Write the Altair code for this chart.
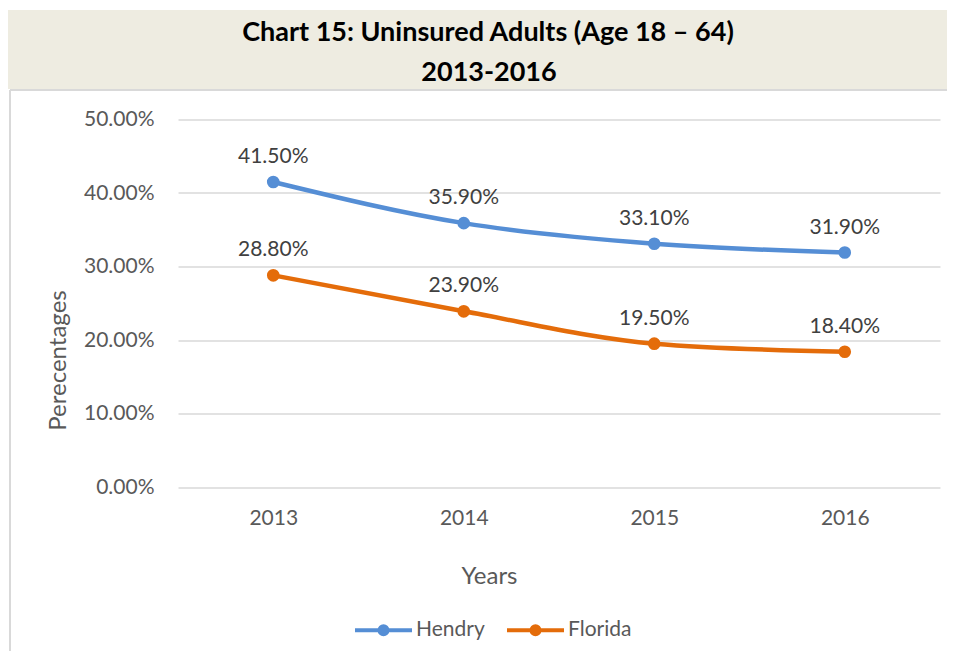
import altair as alt
import pandas as pd

years = ["2013", "2014", "2015", "2016"]
series_names = ["Hendry", "Florida"]
hendry = [0.415, 0.359, 0.331, 0.319]
florida = [0.288, 0.239, 0.195, 0.184]
y_ticks = [0.0, 0.1, 0.2, 0.3, 0.4, 0.5]
colors = ["#558ED5", "#E46C0A"]
title_lines = ["Chart 15: Uninsured Adults (Age 18 \u2013 64)", "2013-2016"]

rows = []
for name, vals in zip(series_names, [hendry, florida]):
    for yr, v in zip(years, vals):
        rows.append({"Year": yr, "Series": name, "Value": v})
df = pd.DataFrame(rows)

FONT = "Lato"
W, H = 762, 367.5

legend = alt.Legend(
    title=None,
    orient="none",
    direction="horizontal",
    legendX=175,
    legendY=480,
    symbolType="M-1,0L1,0 M0.0526,0A0.0526,0.0526 0 1,1 -0.0526,0A0.0526,0.0526 0 1,1 0.0526,0Z M0.14,0A0.14,0.14 0 1,1 -0.14,0A0.14,0.14 0 1,1 0.14,0Z",
    symbolSize=3249,
    symbolStrokeWidth=4,
    symbolOpacity=1,
    labelFont=FONT,
    labelFontSize=21,
    labelColor="#595959",
    labelOffset=2,
    columnPadding=14,
)
color = alt.Color("Series:N", scale=alt.Scale(domain=series_names, range=colors), legend=legend)

x = alt.X(
    "Year:O",
    sort=years,
    axis=alt.Axis(
        title="Years", titleFont=FONT, titleFontSize=24, titleFontWeight="normal",
        titleColor="#595959", titleX=W / 2 - 70, titleY=89, titleBaseline="middle",
        labelAngle=0, labelFont=FONT, labelFontSize=21, labelColor="#595959",
        labelPadding=20, domain=False, ticks=False, grid=False,
    ),
)
y = alt.Y(
    "Value:Q",
    scale=alt.Scale(domain=[0, 0.5], nice=False),
    axis=alt.Axis(
        title="Perecentages", titleFont=FONT, titleFontSize=24, titleFontWeight="normal",
        titleColor="#595959", titleX=-120, titleY=240.5, titleAngle=270,
        titleAlign="center", titleBaseline="middle",
        values=y_ticks, format=".2%", labelFont=FONT, labelFontSize=21,
        labelColor="#595959", labelPadding=24, domain=False, ticks=False,
        grid=True, gridColor="#D9D9D9", gridWidth=1.5,
    ),
)

base = alt.Chart(df)
lines = base.mark_line(interpolate="monotone", strokeWidth=4.5).encode(x=x, y=y, color=color)
points = base.mark_point(filled=True, size=160, opacity=1).encode(x=x, y=y, color=color)
labels = base.mark_text(dy=-25, font=FONT, fontSize=21, color="#404040").encode(
    x=x, y=y, text=alt.Text("Value:Q", format=".2%")
)

deco_df = pd.DataFrame({"a": [0]})
banner = alt.Chart(deco_df).mark_rect(color="#EEECE1").encode(
    x=alt.value(-171), x2=alt.value(769), y=alt.value(-109.5), y2=alt.value(-30.5)
)
sep = alt.Chart(deco_df).mark_rule(color="#D9D9D9", strokeWidth=2).encode(
    x=alt.value(-168), x2=alt.value(769), y=alt.value(-29.5)
)
left_border = alt.Chart(deco_df).mark_rule(color="#D9D9D9", strokeWidth=2).encode(
    x=alt.value(-168), y=alt.value(-29.5), y2=alt.value(H + 170)
)
t1 = alt.Chart(pd.DataFrame({"t": [title_lines[0]]})).mark_text(
    font=FONT, fontSize=27, fontWeight="bold", color="#000000", baseline="middle"
).encode(text="t:N", x=alt.value(310), y=alt.value(-87))
t2 = alt.Chart(pd.DataFrame({"t": [title_lines[1]]})).mark_text(
    font=FONT, fontSize=27, fontWeight="bold", color="#000000", baseline="middle"
).encode(text="t:N", x=alt.value(311), y=alt.value(-47))

chart = alt.layer(banner, sep, left_border, t1, t2, lines, points, labels).properties(
    width=W,
    height=H,
    padding={"left": 170, "top": 111.5, "right": 7, "bottom": 164},
    autosize=alt.AutoSizeParams(type="none"),
    background="white",
).configure_view(stroke=None)

chart.save("out.html", embed_options={"renderer": "svg", "actions": False})
